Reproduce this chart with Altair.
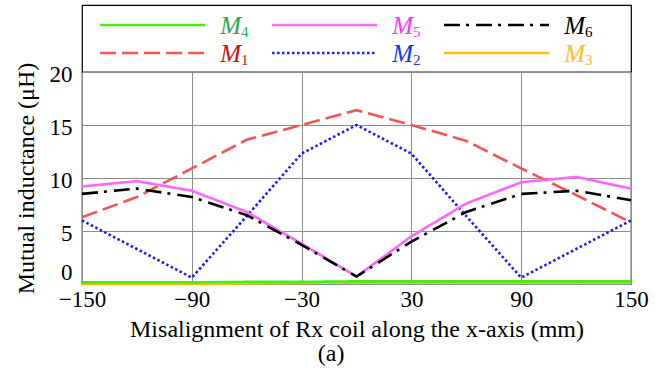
import altair as alt
import pandas as pd

# ---- data ----
x_mm = [-150, -120, -90, -60, -30, 0, 30, 60, 90, 120, 150]
m1 = [6.3, 8.2, 10.9, 13.6, 15.0, 16.4, 15.0, 13.5, 10.9, 8.4, 5.8]
m2 = [6.0, 3.3, 0.6, 6.4, 12.3, 15.0, 12.3, 6.4, 0.6, 3.3, 6.0]
m3 = [0.0, 0.0, 0.0, 0.05, 0.1, 0.15, 0.15, 0.15, 0.15, 0.15, 0.15]
m4 = [0.15, 0.15, 0.15, 0.2, 0.2, 0.25, 0.25, 0.25, 0.25, 0.25, 0.25]
m5 = [9.2, 9.7, 8.8, 6.8, 3.8, 0.7, 4.5, 7.6, 9.6, 10.1, 9.0]
m6 = [8.5, 9.0, 8.2, 6.5, 3.7, 0.7, 4.0, 6.8, 8.5, 8.8, 7.9]

series_names = ["M1", "M2", "M3", "M4", "M5", "M6"]
subscripts = ["1", "2", "3", "4", "5", "6"]
line_colors = ["#f25555", "#1a1aff", "#ffc000", "#44ee11", "#ff66ff", "#000000"]
text_colors = ["#cc1111", "#1a33ff", "#ffc020", "#22aa55", "#ff33ff", "#000000"]
dashes = [[16, 6], [2.5, 2.5], [1, 0], [1, 0], [1, 0], [16, 6, 3, 7]]
widths = [2.6, 2.6, 2.6, 3, 2.6, 2.2]

# legend grid (column, row) for each series
legend_col = [0, 1, 2, 0, 1, 2]
legend_row = [1, 1, 1, 0, 0, 0]

x_ticks = [-150, -90, -30, 30, 90, 150]
y_ticks = [0, 5, 10, 15, 20]

FONT = "Liberation Serif"

values = {"M1": m1, "M2": m2, "M3": m3, "M4": m4, "M5": m5, "M6": m6}
rows = []
for s in series_names:
    for xv, yv in zip(x_mm, values[s]):
        rows.append({"x": xv, "y": yv, "series": s})
df = pd.DataFrame(rows)

leg = pd.DataFrame({
    "series": series_names,
    "sub": subscripts,
    "col": legend_col,
    "row": legend_row,
})
leg["x_start"] = leg["col"]
leg["x_end"] = leg["col"] + 0.61
leg["x_text"] = leg["col"] + 0.82
leg["M"] = "M"

color_scale = alt.Scale(domain=series_names, range=line_colors)
dash_scale = alt.Scale(domain=series_names, range=dashes)
size_scale = alt.Scale(domain=series_names, range=widths)
text_scale = alt.Scale(domain=series_names, range=text_colors)

# ---- legend panel ----
lx = alt.Scale(domain=[-0.105, 3.087], nice=False, zero=False)
ly = alt.Scale(domain=[-0.714, 1.679], nice=False, zero=False, reverse=True)

leg_lines = alt.Chart(leg).mark_rule().encode(
    x=alt.X("x_start:Q", scale=lx, axis=None),
    x2="x_end:Q",
    y=alt.Y("row:Q", scale=ly, axis=None),
    color=alt.Color("series:N", scale=color_scale, legend=None),
    strokeDash=alt.StrokeDash("series:N", scale=dash_scale, legend=None),
    size=alt.Size("series:N", scale=size_scale, legend=None),
)
leg_m = alt.Chart(leg).mark_text(
    font=FONT, fontSize=25, fontStyle="italic", align="right", baseline="middle", dy=1
).encode(
    x=alt.X("x_text:Q", scale=lx, axis=None),
    y=alt.Y("row:Q", scale=ly, axis=None),
    text="M:N",
    color=alt.Color("series:N", scale=text_scale, legend=None),
)
leg_sub = alt.Chart(leg).mark_text(
    font=FONT, fontSize=15, align="left", baseline="middle", dy=7, dx=0
).encode(
    x=alt.X("x_text:Q", scale=lx, axis=None),
    y=alt.Y("row:Q", scale=ly, axis=None),
    text="sub:N",
    color=alt.Color("series:N", scale=text_scale, legend=None),
)
legend_panel = alt.layer(leg_lines, leg_m, leg_sub).resolve_scale(
    color="independent"
).properties(width=549, height=67)

# ---- main plot ----
main = alt.Chart(df).mark_line().encode(
    x=alt.X(
        "x:Q",
        scale=alt.Scale(domain=[-150, 150], nice=False, zero=False),
        axis=alt.Axis(
            values=x_ticks,
            title="Misalignment of Rx coil along the x-axis (mm)",
            grid=True,
            domain=False,
            ticks=False,
            labelFlush=False,
            labelPadding=4,
            titlePadding=6,
        ),
    ),
    y=alt.Y(
        "y:Q",
        scale=alt.Scale(domain=[0, 20], nice=False, zero=False),
        axis=alt.Axis(
            values=y_ticks,
            title="Mutual inductance (μH)",
            grid=True,
            domain=False,
            ticks=False,
            labelFlush=False,
            labelPadding=10,
            titlePadding=11,
            labelOffset={"condition": {"test": "datum.value == 0", "value": -12}, "value": 2},
        ),
    ),
    color=alt.Color("series:N", scale=color_scale, legend=None),
    strokeDash=alt.StrokeDash("series:N", scale=dash_scale, legend=None),
    size=alt.Size("series:N", scale=size_scale, legend=None),
    detail="series:N",
).properties(width=549, height=212)

chart = alt.vconcat(legend_panel, main, spacing=0, bounds="flush").properties(
    padding={"left": 13, "top": 4, "right": 5, "bottom": 5},
    background="white",
    title=alt.TitleParams(
        "(a)", orient="bottom", anchor="middle", font=FONT, fontSize=24,
        fontWeight="normal", color="black", offset=0,
    ),
).configure_view(
    stroke="black", strokeWidth=1.2
).configure_axis(
    labelFont=FONT, titleFont=FONT, labelFontSize=23, titleFontSize=24,
    labelColor="black", titleColor="black", titleFontWeight="normal",
    gridColor="#8c8c8c", gridWidth=1, gridOpacity=1,
)

chart.save("out.html", embed_options={"renderer": "svg", "actions": False})
